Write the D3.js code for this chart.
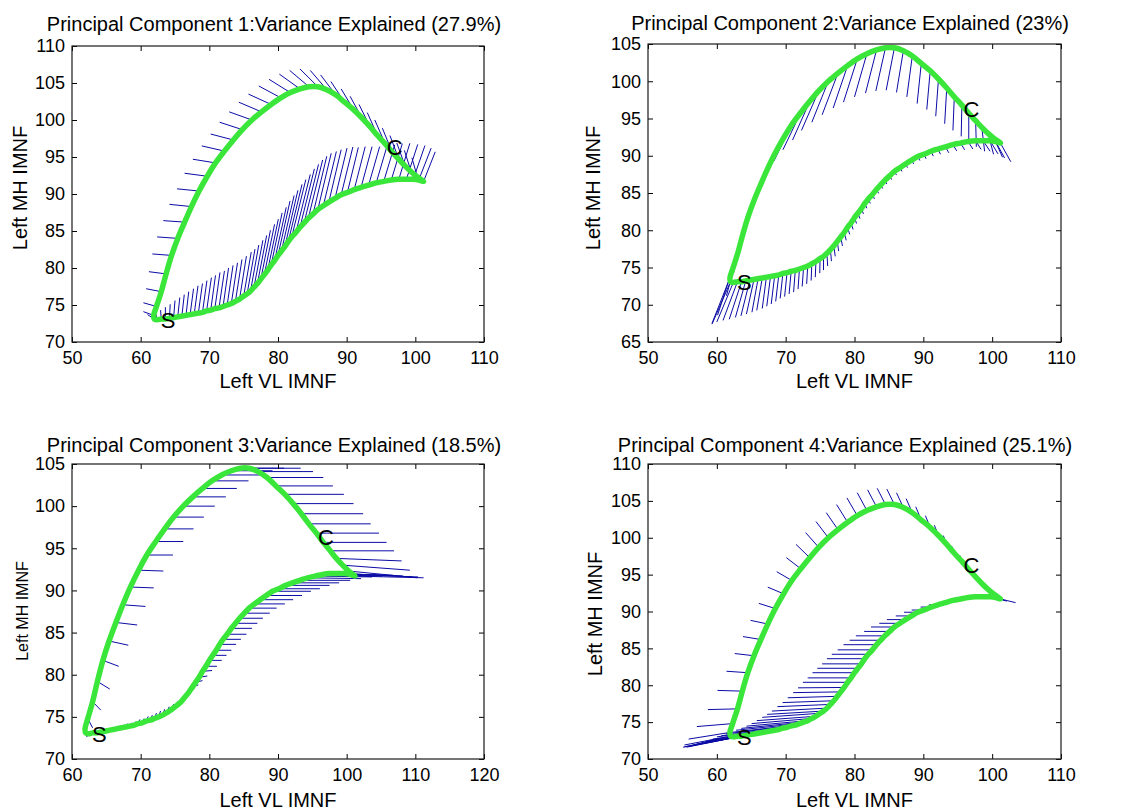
<!DOCTYPE html>
<html>
<head>
<meta charset="utf-8">
<script src="https://cdn.jsdelivr.net/npm/d3@7"></script>
<style>
  body { margin: 0; background: #fff; }
  text { font-family: "Liberation Sans", Arial, sans-serif; fill: #000; }
</style>
</head>
<body>
<script>
// mean loop: lower branch (S -> right end, 58 pts) then upper branch back to S (36 pts)
var meanX = [62.4,63.0,63.6,64.2,64.8,65.4,66.0,66.6, 67.2,67.8,68.4,69.0,69.6,70.2,70.8,71.4,
  72.0,72.6,73.2,73.8,74.4,75.0,75.5,76.0, 76.5,77.0,77.5,78.0,78.5,79.0,79.5,80.0,
  80.5,81.0,81.5,82.0,82.6,83.2,83.8,84.4, 85.1,85.8,86.6,87.4,88.3,89.2,90.1,91.1,
  92.1,93.2,94.3,95.4,96.5,97.6,98.7,99.7, 100.5,101.2,
  100.3,99.4,98.5,97.6,96.6,95.6,94.5,93.4,92.2,91.0, 89.7,88.4,87.1,85.8,84.5,83.2,81.8,80.4,79.0,77.6,
  76.2,74.8,73.5,72.2,70.9,69.7,68.5,67.4,66.4,65.4, 64.5,63.7,63.0,62.3,61.9,62.0];
var meanY = [73.0,73.1,73.1,73.2,73.3,73.4,73.5,73.6, 73.7,73.8,73.9,74.0,74.2,74.3,74.5,74.6,
  74.8,75.0,75.2,75.5,75.8,76.2,76.5,76.9, 77.4,77.9,78.5,79.1,79.7,80.4,81.0,81.7,
  82.3,82.9,83.6,84.2,84.8,85.5,86.1,86.7, 87.3,87.9,88.4,88.9,89.4,89.9,90.2,90.6,
  90.9,91.2,91.5,91.7,91.9,92.0,92.0,92.0, 91.9,91.7,
  92.3,93.0,93.8,94.7,95.7,96.8,97.9,99.1,100.3,101.4, 102.4,103.4,104.1,104.5,104.5,104.2,103.7,103.0,102.1,101.1,
  100.0,98.7,97.3,95.8,94.2,92.4,90.4,88.3,86.2,84.0, 81.7,79.2,76.8,74.8,73.6,73.1];

// displacement of the mean along each component, one pair per mean point
var pc1Dx = [-0.2,-0.1,0.0,0.1,0.2,0.3,0.35,0.4, 0.5,0.55,0.6,0.65,0.7,0.7,0.75,0.8,
  0.8,0.85,0.9,0.95,1.0,1.1,1.15,1.2, 1.3,1.35,1.4,1.5,1.55,1.6,1.7,1.75,
  1.85,1.9,2.0,2.05,2.1,2.1,2.1,2.1, 2.0,1.95,1.9,1.8,1.75,1.7,1.6,1.6,
  1.6,1.6,1.6,1.6,1.6,1.6,1.65,1.7, 1.8,1.7,
  -0.8,-1.0,-1.2,-1.3,-1.4,-1.5,-1.5,-1.6,-1.7,-1.8, -2.0,-2.2,-2.4,-2.6,-2.8,-3.0,-3.1,-3.2,-3.3,-3.3,
  -3.3,-3.3,-3.3,-3.3,-3.3,-3.3,-3.2,-3.2,-3.1,-3.0, -2.8,-2.5,-2.2,-1.9,-1.5,-1.0];
var pc1Dy = [0.8,1.2,1.6,1.9,2.3,2.6,2.9,3.2, 3.5,3.8,4.0,4.3,4.5,4.7,4.9,5.0,
  5.2,5.35,5.5,5.65,5.8,5.95,6.05,6.2, 6.35,6.5,6.6,6.8,6.9,7.05,7.2,7.35,
  7.5,7.6,7.7,7.75,7.85,7.9,7.9,7.9, 7.8,7.6,7.35,7.1,6.8,6.45,6.1,5.8,
  5.5,5.2,5.05,4.95,4.9,4.85,4.7,4.55, 4.3,4.0,
  2.6,2.9,3.1,3.2,3.2,3.2,3.1,3.0,2.9,2.8, 2.8,2.7,2.6,2.4,2.2,2.0,1.8,1.6,1.4,1.3,
  1.1,1.0,0.8,0.7,0.5,0.4,0.3,0.3,0.2,0.2, 0.2,0.3,0.4,0.5,0.5,0.6];

var pc2Dx = [-2.4,-2.1,-1.8,-1.5,-1.3,-1.1,-0.9,-0.8, -0.6,-0.55,-0.5,-0.45,-0.4,-0.35,-0.3,-0.25,
  -0.2,-0.2,-0.15,-0.1,-0.1,-0.05,0.0,0.1, 0.15,0.2,0.2,0.25,0.3,0.3,0.3,0.3,
  0.3,0.3,0.3,0.3,0.3,0.3,0.3,0.3, 0.3,0.3,0.3,0.3,0.3,0.3,0.3,0.35,
  0.4,0.5,0.55,0.6,0.7,0.8,1.0,1.15, 1.3,1.5,
  1.2,0.8,0.4,0.1,0.0,-0.1,-0.2,-0.3,-0.4,-0.5, -0.6,-0.8,-1.0,-1.2,-1.4,-1.6,-1.8,-2.0,-2.1,-2.3,
  -2.4,-2.5,-2.5,-2.6,-2.6,-2.5,-2.4,-2.1,-1.8,-1.5, -1.3,-1.3,-1.6,-2.2,-2.6,-2.7];
var pc2Dy = [-5.3,-5.2,-5.05,-4.9,-4.8,-4.65,-4.5,-4.35, -4.2,-4.0,-3.8,-3.55,-3.35,-3.2,-3.05,-2.9,
  -2.7,-2.55,-2.4,-2.25,-2.1,-1.95,-1.85,-1.7, -1.55,-1.4,-1.3,-1.2,-1.05,-0.95,-0.9,-0.8,
  -0.75,-0.7,-0.65,-0.6,-0.6,-0.55,-0.5,-0.5, -0.5,-0.5,-0.5,-0.5,-0.5,-0.55,-0.6,-0.65,
  -0.7,-0.8,-0.85,-0.9,-1.0,-1.15,-1.4,-1.75, -2.2,-2.5,
  -2.5,-2.8,-3.2,-3.5,-3.9,-4.2,-4.5,-4.8,-5.0,-5.2, -5.4,-5.5,-5.6,-5.7,-5.8,-5.8,-5.8,-5.8,-5.7,-5.6,
  -5.5,-5.3,-5.2,-5.0,-4.9,-4.8,-4.7,-4.6,-4.6,-4.6, -4.7,-5.0,-5.6,-6.2,-6.1,-5.7];

var pc3Dx = [0.2,0.2,0.25,0.3,0.3,0.3,0.3,0.3, 0.3,0.3,0.3,0.3,0.3,0.3,0.3,0.3,
  0.3,0.3,0.3,0.35,0.4,0.45,0.5,0.6, 0.7,0.8,0.9,1.0,1.2,1.4,1.6,1.8,
  2.0,2.2,2.4,2.6,2.8,3.0,3.2,3.4, 3.7,4.0,4.4,4.8,5.2,5.6,6.0,6.4,
  6.8,7.3,7.8,8.3,8.7,9.1,9.5,9.8, 9.9,10.0,
  10.0,9.8,9.5,9.3,9.2,9.1,9.0,9.0,8.8,8.6, 8.3,8.2,8.0,7.5,6.4,6.0,5.6,5.3,5.0,4.8,
  4.6,4.4,4.2,4.0,3.8,3.6,3.4,3.3,3.1,2.8, 2.3,1.8,1.2,0.7,0.4,0.2];
var pc3Dy = [0.1,0.1,0.15,0.2,0.2,0.25,0.3,0.3, 0.35,0.4,0.4,0.45,0.5,0.5,0.55,0.6,
  0.65,0.7,0.7,0.7,0.7,0.65,0.6,0.5, 0.45,0.4,0.3,0.2,0.15,0.1,0.0,0.0,
  0.0,0.0,0.0,0.0,0.0,0.0,0.0,0.0, 0.0,0.0,0.0,0.0,0.0,0.0,0.0,0.0,
  0.0,0.0,-0.1,-0.1,-0.2,-0.2,-0.3,-0.4, -0.3,-0.2,
  -0.8,-0.6,-0.3,0.0,0.0,0.0,0.0,0.0,0.0,0.0, 0.0,0.0,0.0,0.0,0.0,0.0,0.0,0.0,0.0,0.0,
  0.0,0.0,0.0,0.0,0.0,-0.1,-0.1,-0.2,-0.3,-0.5, -0.7,-0.9,-1.0,-1.1,-0.8,-0.5];

var pc4Dx = [-7.3,-7.7,-8.0,-8.3,-8.6,-8.8,-9.0,-9.2, -9.4,-9.5,-9.55,-9.6,-9.6,-9.55,-9.5,-9.4,
  -9.2,-9.05,-8.9,-8.75,-8.6,-8.4,-8.2,-8.0, -7.7,-7.45,-7.2,-6.9,-6.7,-6.5,-6.3,-6.1,
  -5.9,-5.7,-5.5,-5.3,-5.05,-4.8,-4.5,-4.2, -3.7,-3.4,-3.0,-2.7,-2.3,-2.0,-1.8,-1.5,
  -1.3,-1.0,-0.8,-0.5,-0.3,0.1,0.6,1.1, 1.6,2.2,
  1.5,0.6,0.2,-0.1,-0.2,-0.3,-0.4,-0.5,-0.6,-0.7, -0.8,-0.9,-1.0,-1.1,-1.2,-1.3,-1.4,-1.5,-1.6,-1.7,
  -1.8,-1.9,-2.0,-2.1,-2.2,-2.3,-2.4,-2.5,-2.6,-2.8, -3.1,-3.6,-4.3,-5.2,-6.0,-6.7];
var pc4Dy = [-1.4,-1.45,-1.5,-1.5,-1.5,-1.5,-1.5,-1.5, -1.5,-1.45,-1.4,-1.3,-1.2,-1.15,-1.1,-1.0,
  -0.9,-0.85,-0.75,-0.7,-0.6,-0.55,-0.45,-0.4, -0.3,-0.25,-0.2,-0.1,-0.05,0.0,0.0,0.0,
  0.0,0.0,0.0,0.0,0.0,0.0,0.0,0.0, 0.0,0.0,0.0,0.0,0.0,0.0,0.0,0.0,
  0.0,0.0,0.0,0.0,0.0,-0.1,-0.2,-0.35, -0.5,-0.5,
  -0.8,-0.3,0.1,0.4,0.6,0.8,1.0,1.2,1.4,1.6, 1.8,1.9,2.0,2.1,2.2,2.3,2.4,2.4,2.4,2.3,
  2.2,2.0,1.8,1.5,1.2,0.9,0.7,0.5,0.4,0.3, 0.2,0.1,-0.1,-0.4,-0.9,-1.2];

var titles = ["Principal Component 1:Variance Explained (27.9%)",
  "Principal Component 2:Variance Explained (23%)",
  "Principal Component 3:Variance Explained (18.5%)",
  "Principal Component 4:Variance Explained (25.1%)"];
var xLabel = "Left VL IMNF";
var yLabel = "Left MH IMNF";
var xDomains = [[50, 110], [50, 110], [60, 120], [50, 110]];
var yDomains = [[70, 110], [65, 105], [70, 105], [70, 110]];
var xTicks = [[50,60,70,80,90,100,110], [50,60,70,80,90,100,110], [60,70,80,90,100,110,120], [50,60,70,80,90,100,110]];
var yTicks = [[70,75,80,85,90,95,100,105,110], [65,70,75,80,85,90,95,100,105], [70,75,80,85,90,95,100,105], [70,75,80,85,90,95,100,105,110]];
var markText = ["S", "C"];
var markX = [64, 97];
var markY = [73.0, 96.3];

var pcDx = [pc1Dx, pc2Dx, pc3Dx, pc4Dx];
var pcDy = [pc1Dy, pc2Dy, pc3Dy, pc4Dy];
pcDx.concat(pcDy, [meanY]).forEach(function(a, i) {
  if (a.length !== meanX.length) throw new Error("array " + i + " has " + a.length + " values, expected " + meanX.length);
});

// axes boxes in page pixels, plus where the texts sit
var layout = [
  {left: 72, right: 484, top: 46, bottom: 342, titleX: 274, titleY: 31, xlabY: 388, ylabX: 27, ylabY: 188, ylabSize: 20},
  {left: 648, right: 1061, top: 44, bottom: 342, titleX: 850, titleY: 30, xlabY: 388, ylabX: 600, ylabY: 188, ylabSize: 20},
  {left: 72, right: 484, top: 464, bottom: 759, titleX: 274, titleY: 452, xlabY: 807, ylabX: 28, ylabY: 611, ylabSize: 16},
  {left: 648, right: 1061, top: 464, bottom: 759, titleX: 845, titleY: 452, xlabY: 807, ylabX: 602, ylabY: 614, ylabSize: 20}
];

var svg = d3.select("body")
  .append("svg")
    .attr("width", 1124)
    .attr("height", 812);

var meanPts = meanX.map(function(x, i) { return [x, meanY[i]]; });

layout.forEach(function(L, k) {
  var x = d3.scaleLinear().domain(xDomains[k]).range([L.left, L.right]);
  var y = d3.scaleLinear().domain(yDomains[k]).range([L.bottom, L.top]);
  var w = L.right - L.left, h = L.bottom - L.top;

  var g = svg.append("g").attr("class", "panel");

  // blue component lines
  g.append("g").selectAll("line")
    .data(meanPts)
    .enter()
    .append("line")
      .attr("x1", function(d) { return x(d[0]); })
      .attr("y1", function(d) { return y(d[1]); })
      .attr("x2", function(d, i) { return x(d[0] + pcDx[k][i]); })
      .attr("y2", function(d, i) { return y(d[1] + pcDy[k][i]); })
      .attr("stroke", "#0b0ba6")
      .attr("stroke-width", 1);

  // green mean loop
  var line = d3.line()
    .x(function(d) { return x(d[0]); })
    .y(function(d) { return y(d[1]); })
    .curve(d3.curveCatmullRomClosed.alpha(0.5));
  g.append("path")
    .attr("d", line(meanPts))
    .attr("fill", "none")
    .attr("stroke", "#3ae63a")
    .attr("stroke-width", 5.5)
    .attr("stroke-linejoin", "round");

  g.selectAll("text.mark")
    .data(markText)
    .enter()
    .append("text")
      .attr("class", "mark")
      .attr("x", function(d, i) { return x(markX[i]); })
      .attr("y", function(d, i) { return y(markY[i]); })
      .attr("dy", "0.36em")
      .attr("text-anchor", "middle")
      .style("font-size", "22px")
      .text(function(d) { return d; });

  // axes, ticks inward on all four sides
  var ax = [
    d3.axisBottom(x).tickValues(xTicks[k]).tickSizeInner(-5).tickSizeOuter(0).tickPadding(9),
    d3.axisTop(x).tickValues(xTicks[k]).tickSizeInner(-5).tickSizeOuter(0).tickFormat(""),
    d3.axisLeft(y).tickValues(yTicks[k]).tickSizeInner(-5).tickSizeOuter(0).tickPadding(7),
    d3.axisRight(y).tickValues(yTicks[k]).tickSizeInner(-5).tickSizeOuter(0).tickFormat("")
  ];
  var pos = ["translate(0," + L.bottom + ")", "translate(0," + L.top + ")",
             "translate(" + L.left + ",0)", "translate(" + L.right + ",0)"];
  ax.forEach(function(a, j) {
    var ag = g.append("g").attr("transform", pos[j]).call(a);
    ag.select(".domain").remove();
    ag.selectAll("line").attr("stroke", "#000");
    ag.selectAll("text").style("font-size", "18px").attr("fill", "#000").attr("font-family", null);
  });

  g.append("rect")
    .attr("x", L.left).attr("y", L.top)
    .attr("width", w).attr("height", h)
    .attr("fill", "none")
    .attr("stroke", "#1a1a1a")
    .attr("stroke-width", 1.2);

  g.append("text")
    .attr("x", L.titleX).attr("y", L.titleY)
    .attr("text-anchor", "middle")
    .style("font-size", "20px")
    .text(titles[k]);

  g.append("text")
    .attr("x", (L.left + L.right) / 2).attr("y", L.xlabY)
    .attr("text-anchor", "middle")
    .style("font-size", "20px")
    .text(xLabel);

  g.append("text")
    .attr("transform", "translate(" + L.ylabX + "," + L.ylabY + ") rotate(-90)")
    .attr("text-anchor", "middle")
    .style("font-size", L.ylabSize + "px")
    .text(yLabel);
});
</script>
</body>
</html>
